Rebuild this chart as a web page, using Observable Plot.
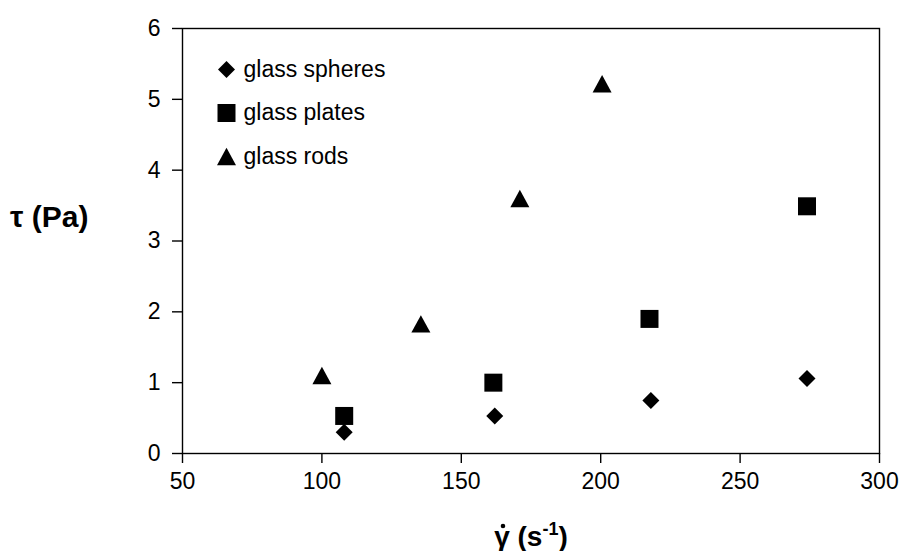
<!DOCTYPE html>
<html>
<head>
<meta charset="utf-8">
<script src="https://cdn.jsdelivr.net/npm/d3@7"></script>
<script src="https://cdn.jsdelivr.net/npm/@observablehq/plot@0.6"></script>
<style>
  html, body { margin: 0; padding: 0; background: #fff; }
  #chart svg { font-family: "Liberation Sans", Arial, sans-serif; color: #000; }
</style>
</head>
<body>
<div id="chart"></div>
<script>
// Shear stress vs. shear rate for three glass particle shapes
const seriesNames = ["glass spheres", "glass plates", "glass rods"];

const spheresRate = [108, 162, 218, 274];
const spheresStress = [0.30, 0.53, 0.75, 1.06];

const platesRate = [108, 161.5, 217.5, 274];
const platesStress = [0.53, 1.00, 1.90, 3.49];

const rodsRate = [100, 135.5, 171, 200.5];
const rodsStress = [1.10, 1.83, 3.60, 5.22];

const xTicks = [50, 100, 150, 200, 250, 300];
const yTicks = [0, 1, 2, 3, 4, 5, 6];

// Marker shapes centred on their bounding box; size = π r²
const half = (size) => Math.sqrt(size / Math.PI);
const diamond = {draw(ctx, size) { const r = half(size); ctx.moveTo(0, -r); ctx.lineTo(r, 0); ctx.lineTo(0, r); ctx.lineTo(-r, 0); ctx.closePath(); }};
const square = {draw(ctx, size) { const r = half(size); ctx.moveTo(-r, -r); ctx.lineTo(r, -r); ctx.lineTo(r, r); ctx.lineTo(-r, r); ctx.closePath(); }};
const triangle = {draw(ctx, size) { const r = half(size); const h = r * 0.92; ctx.moveTo(0, -h); ctx.lineTo(r, h); ctx.lineTo(-r, h); ctx.closePath(); }};

const rows = (rate, stress) => rate.map((x, i) => ({x, y: stress[i]}));
const series = [
  {name: seriesNames[0], data: rows(spheresRate, spheresStress), symbol: diamond, r: 8.5},
  {name: seriesNames[1], data: rows(platesRate, platesStress), symbol: square, r: 9},
  {name: seriesNames[2], data: rows(rodsRate, rodsStress), symbol: triangle, r: 9.5}
];

const marks = [
  Plot.frame({stroke: "#000", strokeWidth: 1.4}),
  Plot.axisX({ticks: xTicks, tickFormat: d3.format("d"), tickSize: 10, tickPadding: 9, fontSize: 23, label: null, strokeWidth: 1.4}),
  Plot.axisY({ticks: yTicks, tickFormat: d3.format("d"), tickSize: 10, tickPadding: 12, fontSize: 23, label: null, strokeWidth: 1.4})
];
for (const s of series) {
  marks.push(Plot.dot(s.data, {x: "x", y: "y", symbol: s.symbol, r: s.r, fill: "#000"}));
}
// Legend in the upper-left corner of the frame
series.forEach((s, i) => {
  const dy = 41 + i * 43.5;
  marks.push(Plot.dot([s.name], {frameAnchor: "top-left", dx: 44, dy, symbol: s.symbol, r: s.r, fill: "#000"}));
  marks.push(Plot.text([s.name], {text: (d) => d, frameAnchor: "top-left", dx: 61, dy, textAnchor: "start", lineAnchor: "middle", fontSize: 23, fill: "#000"}));
});

const svg = Plot.plot({
  width: 903,
  height: 551,
  marginLeft: 182,
  marginRight: 24,
  marginTop: 28,
  marginBottom: 98,
  x: {domain: [50, 300]},
  y: {domain: [0, 6]},
  marks
});
document.getElementById("chart").appendChild(svg);

// Axis titles (bold, with an overdot on gamma and a superscript in the x title)
const root = d3.select(svg);
root.append("text")
  .attr("x", 10).attr("y", 227)
  .attr("text-anchor", "start")
  .attr("font-size", 30).attr("font-weight", "bold").attr("fill", "#000")
  .text("τ (Pa)");

const xt = root.append("text")
  .attr("x", 531).attr("y", 546)
  .attr("text-anchor", "middle")
  .attr("font-size", 28).attr("font-weight", "bold").attr("fill", "#000");
const gamma = xt.append("tspan").text("\u03B3");
xt.append("tspan").text(" (s");
xt.append("tspan").attr("dy", -11).attr("font-size", 18).text("-1");
xt.append("tspan").attr("dy", 11).text(")");

// Place the overdot centred above the gamma glyph
const gBox = gamma.node().getExtentOfChar ? gamma.node().getExtentOfChar(0) : null;
if (gBox) {
  root.append("circle")
    .attr("cx", gBox.x + gBox.width / 2 + 1)
    .attr("cy", gBox.y + 5)
    .attr("r", 2.3)
    .attr("fill", "#000");
}
</script>
</body>
</html>
